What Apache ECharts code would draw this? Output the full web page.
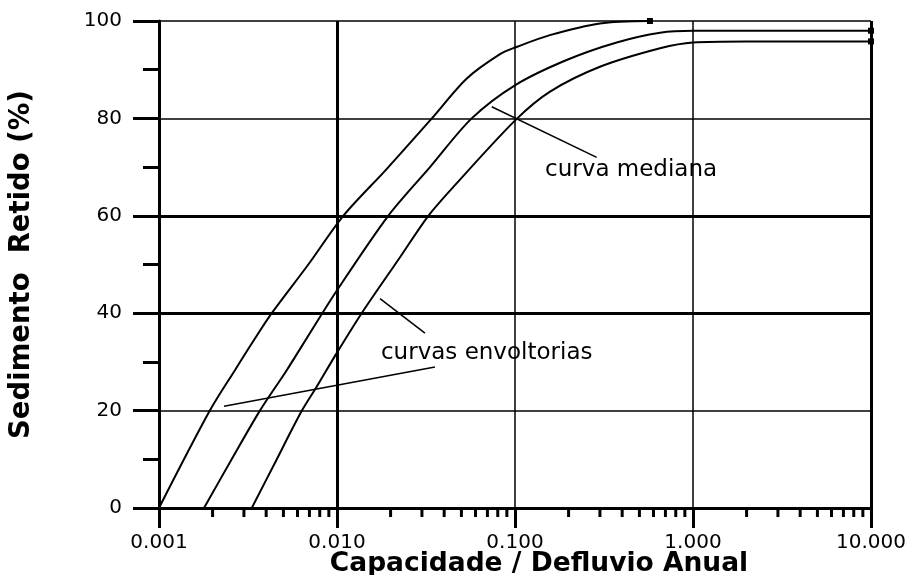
<!DOCTYPE html>
<html>
<head>
<meta charset="utf-8">
<script src="https://cdn.jsdelivr.net/npm/echarts@6/dist/echarts.min.js"></script>
<style>
  html, body { margin: 0; padding: 0; background: #fff; }
  #chart { width: 911px; height: 575px; }
</style>
</head>
<body>
<div id="chart"></div>
<script>
// Trap efficiency curves: capacity / annual inflow (log scale) vs. retained sediment (%)
const xTickLabels = ['0.001', '0.010', '0.100', '1.000', '10.000'];

// Upper envelope curve
const upperCurve = [
  [0.001, 0], [0.00193, 20], [0.00267, 28.3], [0.00346, 34.8], [0.0043, 40],
  [0.0069, 50], [0.01085, 60], [0.0190, 69.6], [0.0341, 80], [0.0536, 88.2],
  [0.0824, 93.2], [0.1009, 94.6], [0.157, 97.1], [0.30, 99.5], [0.573, 100]
];
// Median curve
const medianCurve = [
  [0.00179, 0], [0.00256, 10], [0.00369, 20], [0.00522, 28.3], [0.00721, 36.5],
  [0.00996, 44.6], [0.0194, 60], [0.0333, 70], [0.0571, 80], [0.1009, 86.9],
  [0.195, 92.0], [0.3726, 95.6], [0.653, 97.6], [1.0, 98.0], [2.0, 98.0], [10, 98.0]
];
// Lower envelope curve
const lowerCurve = [
  [0.00332, 0], [0.00447, 9.2], [0.00633, 19.9], [0.00769, 24.9], [0.00996, 31.8],
  [0.01376, 40], [0.0226, 51.5], [0.0326, 60], [0.046, 66.3], [0.1009, 79.7],
  [0.1574, 85.5], [0.30, 90.6], [0.653, 94.4], [1.0, 95.6], [2.0, 95.8], [10, 95.8]
];

// Heavier grid lines
const heavyGridY = [40, 60];
const heavyGridX = [0.01, 10];

// Minor ticks on the log axis: 2..9 within each decade
const decadeStarts = [0.001, 0.01, 0.1, 1];
const minorMultipliers = [2, 3, 4, 5, 6, 7, 8, 9];

// Annotation texts [x, y, text] and their leader lines
const annotationTexts = [
  [0.1476, 69.3, 'curva mediana'],
  [0.01766, 31.8, 'curvas envoltorias']
];
const leaderLines = [
  [[0.0740, 82.4], [0.2877, 72.0]],
  [[0.01745, 43.0], [0.0312, 35.9]],
  [[0.002318, 20.9], [0.0355, 28.95]]
];

const minorTickValues = [];
decadeStarts.forEach(d => minorMultipliers.forEach(m => minorTickValues.push([d * m, 0])));

function withEndMarker(points) {
  return points.map((p, i) => i === points.length - 1
    ? { value: p, symbol: 'rect', symbolSize: [6, 6] }
    : { value: p });
}

const curveStyle = { color: '#000', width: 2 };
const tickFont = { fontFamily: 'DejaVu Sans', fontSize: 20, color: '#000' };

const chart = echarts.init(document.getElementById('chart'), null, { renderer: 'canvas' });
chart.setOption({
  animation: false,
  backgroundColor: '#fff',
  grid: { left: 159, right: 40, top: 21, bottom: 67, outerBoundsMode: 'none', containLabel: false },
  xAxis: {
    type: 'log',
    logBase: 10,
    min: 0.001,
    max: 10,
    interval: 1,
    name: 'Capacidade / Defluvio Anual',
    nameLocation: 'middle',
    nameGap: 43,
    nameMoveOverlap: false,
    nameTextStyle: {
      fontFamily: 'DejaVu Sans', fontWeight: 'bold', fontSize: 26.5, color: '#000',
      padding: [0, 0, 0, 48]
    },
    axisLine: { show: true, onZero: false, lineStyle: { color: '#000', width: 3 } },
    axisTick: { show: true, length: 20, lineStyle: { color: '#000', width: 3 } },
    minorTick: { show: false },
    axisLabel: Object.assign({
      margin: 25,
      formatter: v => xTickLabels[Math.round(Math.log10(v)) + 3]
    }, tickFont),
    splitLine: { show: true, lineStyle: { color: '#000', width: 1.5 } }
  },
  yAxis: {
    type: 'value',
    min: 0,
    max: 100,
    interval: 20,
    name: 'Sedimento  Retido (%)',
    nameLocation: 'middle',
    nameGap: 123,
    nameMoveOverlap: false,
    nameTextStyle: {
      fontFamily: 'DejaVu Sans', fontWeight: 'bold', fontSize: 27.5, color: '#000'
    },
    axisLine: { show: true, lineStyle: { color: '#000', width: 3 } },
    axisTick: { show: true, length: 26, lineStyle: { color: '#000', width: 3 } },
    minorTick: { show: true, splitNumber: 2, length: 16, lineStyle: { color: '#000', width: 3 } },
    axisLabel: Object.assign({ margin: 37 }, tickFont),
    splitLine: { show: true, lineStyle: { color: '#000', width: 1.5 } }
  },
  series: [
    {
      name: 'curva envoltoria superior',
      type: 'line',
      data: withEndMarker(upperCurve),
      smooth: 0.3,
      symbol: 'none',
      showSymbol: true,
      itemStyle: { color: '#000' },
      lineStyle: curveStyle,
      z: 5
    },
    {
      name: 'curva mediana',
      type: 'line',
      data: withEndMarker(medianCurve),
      smooth: 0.3,
      symbol: 'none',
      showSymbol: true,
      itemStyle: { color: '#000' },
      lineStyle: curveStyle,
      z: 5,
      markLine: {
        silent: true,
        symbol: 'none',
        label: { show: false },
        lineStyle: { color: '#000', width: 1.5, type: 'solid' },
        data: leaderLines.map(l => [{ coord: l[0] }, { coord: l[1] }])
      },
      markPoint: {
        silent: true,
        symbol: 'circle',
        symbolSize: 0,
        data: annotationTexts.map(a => ({
          coord: [a[0], a[1]],
          label: {
            show: true, position: 'right', distance: 0, formatter: a[2],
            fontFamily: 'DejaVu Sans', fontSize: 23, color: '#000'
          }
        }))
      }
    },
    {
      name: 'curva envoltoria inferior',
      type: 'line',
      data: withEndMarker(lowerCurve),
      smooth: 0.3,
      symbol: 'none',
      showSymbol: true,
      itemStyle: { color: '#000' },
      lineStyle: curveStyle,
      z: 5,
      markLine: {
        silent: true,
        symbol: 'none',
        label: { show: false },
        lineStyle: { color: '#000', width: 3, type: 'solid' },
        data: heavyGridY.map(v => ({ yAxis: v })).concat(heavyGridX.map(v => ({ xAxis: v })))
      }
    },
    {
      name: 'minor ticks',
      type: 'custom',
      clip: false,
      silent: true,
      data: minorTickValues,
      renderItem: (params, api) => {
        const p = api.coord([api.value(0), api.value(1)]);
        return {
          type: 'rect',
          shape: { x: p[0] - 1.5, y: p[1], width: 3, height: 9 },
          style: { fill: '#000' }
        };
      },
      z: 6
    }
  ]
});
</script>
</body>
</html>
